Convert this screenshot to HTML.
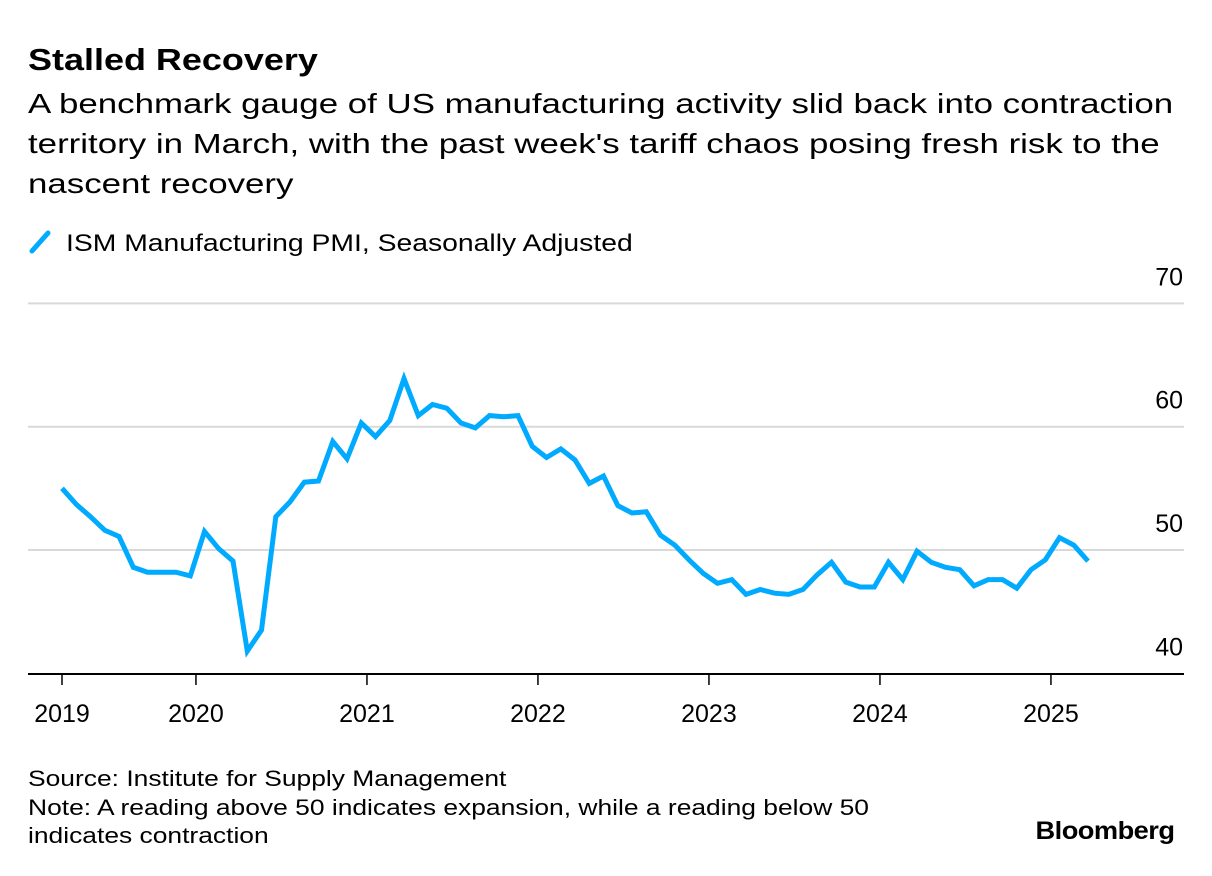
<!DOCTYPE html>
<html><head><meta charset="utf-8">
<style>
body{margin:0;background:#fff;font-family:"Liberation Sans",Arial,sans-serif;color:#000}
#wrap{position:relative;width:1212px;height:876px;overflow:hidden}
.t{position:absolute;left:28px;white-space:nowrap;transform-origin:0 0}
</style></head><body>
<div id="wrap">
<div class="t" style="top:42px;font-size:31px;font-weight:bold;transform:scaleX(1.16)">Stalled Recovery</div>
<div class="t" style="top:84px;font-size:28px;line-height:40px;transform:scaleX(1.245)">A benchmark gauge of US manufacturing activity slid back into contraction<br>territory in March, with the past week's tariff chaos posing fresh risk to the<br>nascent recovery</div>
<div class="t" style="top:227px;font-size:24px;">
<svg width="26" height="30" style="vertical-align:-6px;margin-right:12px"><line x1="4" y1="24" x2="20" y2="6" stroke="#00aaff" stroke-width="5" stroke-linecap="round"/></svg><span style="display:inline-block;transform:scaleX(1.18);transform-origin:0 0">ISM Manufacturing PMI, Seasonally Adjusted</span></div>
<svg id="chart" width="1212" height="876" style="position:absolute;left:0;top:0"></svg>
<div class="t" style="top:765px;font-size:22px;line-height:28.5px;transform:scaleX(1.2)">Source: Institute for Supply Management<br>Note: A reading above 50 indicates expansion, while a reading below 50<br>indicates contraction</div>
<div style="position:absolute;right:38px;top:817px;font-size:25px;font-weight:bold;letter-spacing:-0.5px;transform:scaleX(1.09);transform-origin:100% 0">Bloomberg</div>
</div>
<script>
const values = [55.0,53.7,52.7,51.6,51.1,48.6,48.2,48.2,48.2,47.9,51.5,50.1,49.1,41.8,43.5,52.7,53.9,55.5,55.6,58.8,57.4,60.3,59.2,60.5,63.9,60.9,61.8,61.5,60.3,59.9,60.9,60.8,60.9,58.4,
57.5,58.2,57.3,55.4,56.0,53.6,53.0,53.1,51.2,50.4,49.2,48.1,47.3,47.6,46.4,46.8,46.5,46.4,46.8,48.0,49.0,47.4,47.0,47.0,49.0,47.6,49.9,49.0,48.6,48.4,47.1,47.6,47.6,46.9,48.4,49.2,51.0,50.4,49.1];
const yTicks = [40,50,60,70];
const xTickLabels = ["2019","2020","2021","2022","2023","2024","2025"];
const xTickIdx = [0,9.4,21.4,33.4,45.4,57.4,69.4];

const NS="http://www.w3.org/2000/svg";
const svg=document.getElementById('chart');
const X0=62, DX=14.25;
const x=i=>X0+i*DX;
const y=v=>673.3-(v-40)*12.33;
function mk(tag,attrs){const e=document.createElementNS(NS,tag);for(const k in attrs)e.setAttribute(k,attrs[k]);svg.appendChild(e);return e;}
yTicks.forEach(v=>{
  if(v>40){const g=mk('line',{x1:28,x2:1184,y1:y(v),y2:y(v),stroke:'#d9d9d9','stroke-width':2});
  
  }
  const t=mk('text',{x:1183,y:y(v)-18,'text-anchor':'end','font-size':25,'font-family':'Liberation Sans, Arial, sans-serif'});
  t.textContent=v;
  
  
});
const ax=mk('line',{x1:28,x2:1184,y1:674,y2:674,stroke:'#000','stroke-width':2});


xTickLabels.forEach((lab,k)=>{
  const xx=x(xTickIdx[k]);
  const tk=mk('line',{x1:xx,x2:xx,y1:674,y2:685,stroke:'#000','stroke-width':1.5});
  
  
  const t=mk('text',{x:xx,y:722,'text-anchor':'middle','font-size':25,'font-family':'Liberation Sans, Arial, sans-serif'});
  t.textContent=lab;
  
  
});
const pts=values.map((v,i)=>x(i).toFixed(1)+','+y(v).toFixed(1)).join(' ');
const line=mk('polyline',{points:pts,fill:'none',stroke:'#00aaff','stroke-width':5,'stroke-linejoin':'miter','stroke-miterlimit':3});


</script>
</body></html>
